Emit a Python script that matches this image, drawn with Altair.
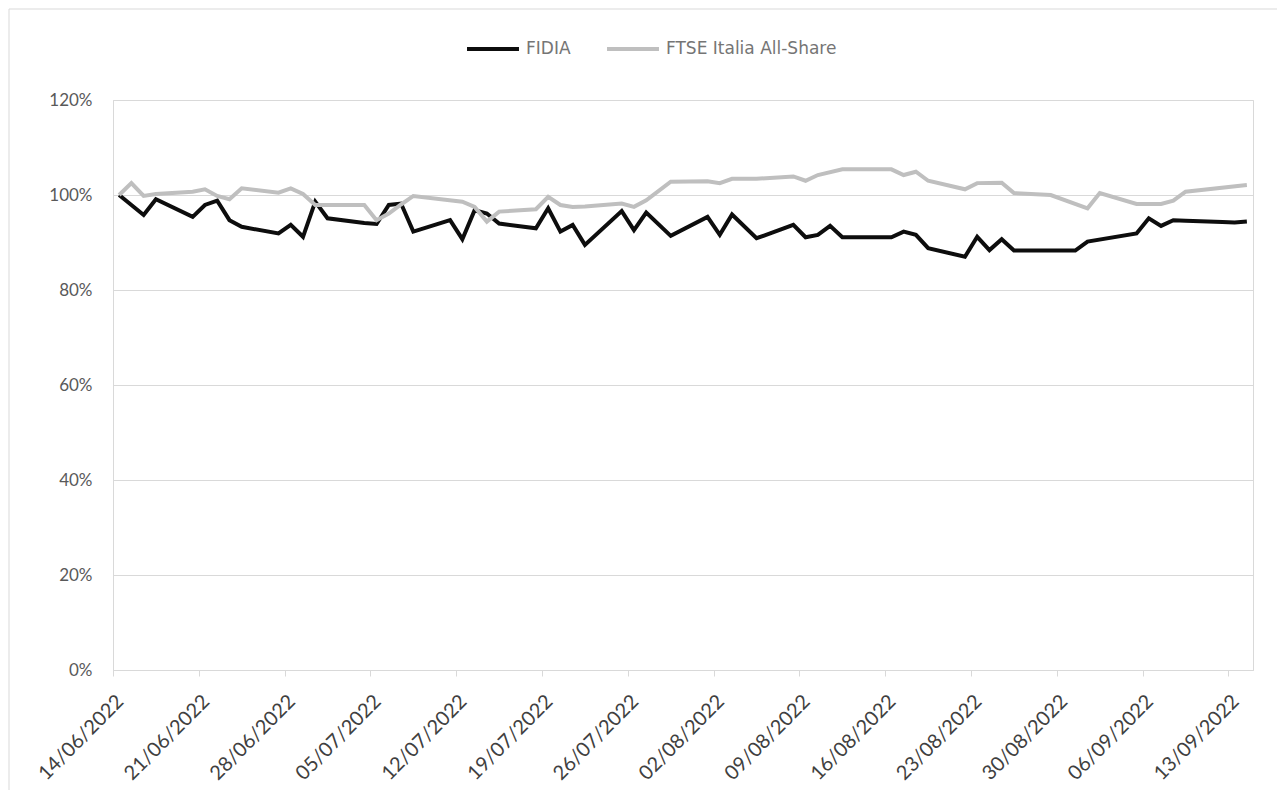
import altair as alt
import pandas as pd

series_names = ["FIDIA", "FTSE Italia All-Share"]
series_colors = ["#0d0d0d", "#bfbfbf"]

fidia_dates = [
    "2022-06-14", "2022-06-16", "2022-06-17", "2022-06-20", "2022-06-21", "2022-06-22",
    "2022-06-23", "2022-06-24", "2022-06-27", "2022-06-28", "2022-06-29", "2022-06-30",
    "2022-07-01", "2022-07-04", "2022-07-05", "2022-07-06", "2022-07-07", "2022-07-08",
    "2022-07-11", "2022-07-12", "2022-07-13", "2022-07-14", "2022-07-15", "2022-07-18",
    "2022-07-19", "2022-07-20", "2022-07-21", "2022-07-22", "2022-07-25", "2022-07-26",
    "2022-07-27", "2022-07-29", "2022-08-01", "2022-08-02", "2022-08-03", "2022-08-05",
    "2022-08-08", "2022-08-09", "2022-08-10", "2022-08-11", "2022-08-12", "2022-08-16",
    "2022-08-17", "2022-08-18", "2022-08-19", "2022-08-22", "2022-08-23", "2022-08-24",
    "2022-08-25", "2022-08-26", "2022-08-31", "2022-09-01", "2022-09-05", "2022-09-06",
    "2022-09-07", "2022-09-08", "2022-09-09", "2022-09-12", "2022-09-13", "2022-09-14",
]
fidia_values = [
    100.0, 95.8, 99.1, 95.4, 97.9, 98.8,
    94.7, 93.3, 91.9, 93.7, 91.2, 98.6,
    95.1, 94.1, 93.9, 97.9, 98.2, 92.3,
    94.7, 90.7, 96.8, 96.1, 94.0, 93.0,
    97.2, 92.3, 93.7, 89.5, 96.6, 92.6,
    96.3, 91.4, 95.4, 91.6, 95.9, 90.9,
    93.7, 91.1, 91.6, 93.5, 91.1, 91.1,
    92.3, 91.6, 88.8, 87.0, 91.2, 88.4,
    90.7, 88.3, 88.3, 90.2, 91.9, 95.1,
    93.5, 94.7, 94.6, 94.3, 94.2, 94.4,
]

ftse_dates = [
    "2022-06-14", "2022-06-15", "2022-06-16", "2022-06-17", "2022-06-20", "2022-06-21",
    "2022-06-22", "2022-06-23", "2022-06-24", "2022-06-27", "2022-06-28", "2022-06-29",
    "2022-06-30", "2022-07-01", "2022-07-04", "2022-07-05", "2022-07-06", "2022-07-07",
    "2022-07-08", "2022-07-12", "2022-07-13", "2022-07-14", "2022-07-15", "2022-07-18",
    "2022-07-19", "2022-07-20", "2022-07-21", "2022-07-22", "2022-07-25", "2022-07-26",
    "2022-07-27", "2022-07-29", "2022-08-01", "2022-08-02", "2022-08-03", "2022-08-05",
    "2022-08-08", "2022-08-09", "2022-08-10", "2022-08-12", "2022-08-16", "2022-08-17",
    "2022-08-18", "2022-08-19", "2022-08-22", "2022-08-23", "2022-08-25", "2022-08-26",
    "2022-08-29", "2022-09-01", "2022-09-02", "2022-09-05", "2022-09-07", "2022-09-08",
    "2022-09-09", "2022-09-14",
]
ftse_values = [
    100.0, 102.5, 99.8, 100.2, 100.7, 101.2,
    99.8, 99.1, 101.4, 100.5, 101.4, 100.2,
    97.9, 97.9, 97.9, 94.7, 96.1, 98.0,
    99.8, 98.6, 97.5, 94.4, 96.5, 97.0,
    99.6, 97.9, 97.5, 97.6, 98.2, 97.5,
    98.9, 102.8, 102.9, 102.5, 103.4, 103.4,
    103.9, 103.0, 104.2, 105.4, 105.4, 104.2,
    104.9, 103.0, 101.2, 102.5, 102.6, 100.4,
    100.0, 97.2, 100.4, 98.1, 98.1, 98.8,
    100.7, 102.1,
]

tick_dates = [
    "2022-06-14", "2022-06-21", "2022-06-28", "2022-07-05", "2022-07-12", "2022-07-19",
    "2022-07-26", "2022-08-02", "2022-08-09", "2022-08-16", "2022-08-23", "2022-08-30",
    "2022-09-06", "2022-09-13",
]
y_ticks = [0, 20, 40, 60, 80, 100, 120]
x_domain = ["2022-06-14", "2022-09-15"]


def to_dt(s):
    y, m, d = (int(p) for p in s.split("-"))
    return alt.DateTime(year=y, month=m, date=d)


rows = []
for name, dates, vals in [
    (series_names[0], fidia_dates, fidia_values),
    (series_names[1], ftse_dates, ftse_values),
]:
    for d, v in zip(dates, vals):
        rows.append({"date": d + "T12:00:00", "value": v, "series": name})
df = pd.DataFrame(rows)
df["order"] = df["series"].map({series_names[0]: 2, series_names[1]: 1})

FONT = "Lato"
LEGEND_FONT = "DejaVu Sans"
Y_LABEL_COLOR = "#595959"
X_LABEL_COLOR = "#404040"

W, H = 1140, 570

line = (
    alt.Chart(df)
    .mark_line(strokeWidth=4, strokeJoin="miter", strokeCap="butt")
    .encode(
        x=alt.X(
            "date:T",
            scale=alt.Scale(domain=[to_dt(x_domain[0]), to_dt(x_domain[1])]),
            axis=alt.Axis(
                values=[to_dt(t) for t in tick_dates],
                format="%d/%m/%Y",
                labelAngle=-45,
                labelAlign="right",
                labelBaseline="top",
                labelPadding=15,
                labelFontSize=20,
                labelColor=X_LABEL_COLOR,
                labelFont=FONT,
                tickColor="#d9d9d9",
                tickSize=6,
                domainColor="#d9d9d9",
                grid=False,
                title=None,
                labelOverlap=False,
            ),
        ),
        y=alt.Y(
            "value:Q",
            scale=alt.Scale(domain=[0, 120]),
            axis=alt.Axis(
                values=y_ticks,
                labelExpr="datum.value + '%'",
                labelFontSize=17,
                labelColor=Y_LABEL_COLOR,
                labelFont=FONT,
                labelPadding=21,
                ticks=False,
                domainColor="#d9d9d9",
                gridColor="#d9d9d9",
                title=None,
            ),
        ),
        color=alt.Color(
            "series:N",
            scale=alt.Scale(domain=series_names, range=series_colors),
            legend=alt.Legend(
                orient="none",
                legendX=352,
                legendY=-79,
                direction="horizontal",
                title=None,
                symbolType="stroke",
                symbolSize=2700,
                symbolStrokeWidth=4,
                labelFontSize=17,
                labelColor="#757575",
                labelFont=LEGEND_FONT,
                labelOffset=5,
                labelLimit=500,
                columnPadding=28,
            ),
        ),
        order=alt.Order("order:Q"),
        detail="series:N",
    )
)

frame = (
    alt.Chart(pd.DataFrame({"k": [0]}))
    .mark_rect(fill=None, stroke="#d9d9d9", strokeWidth=1, clip=False)
    .encode(
        x=alt.value(-104),
        x2=alt.value(W + 27),
        y=alt.value(-91),
        y2=alt.value(H + 124),
    )
)

chart = (
    alt.layer(frame, line)
    .properties(
        width=W,
        height=H,
        autosize=alt.AutoSizeParams(type="none"),
        padding={"left": 105, "top": 92, "right": 24, "bottom": 120},
        background="white",
    )
    .configure_view(stroke="#d9d9d9", strokeWidth=1)
)

chart.save("out.html", embed_options={"renderer": "svg", "actions": False})
